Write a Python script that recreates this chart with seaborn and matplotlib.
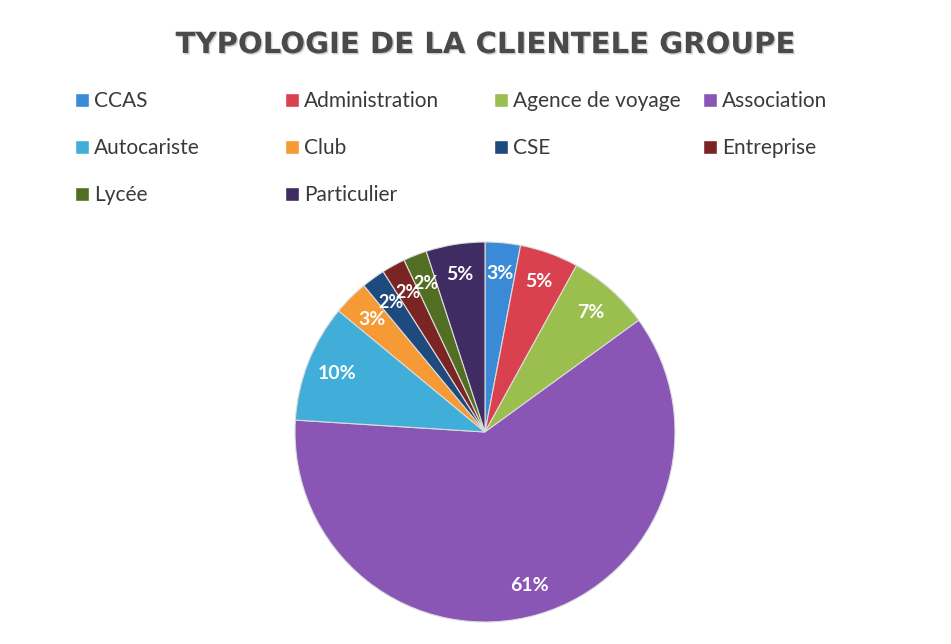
import seaborn as sns
import matplotlib.pyplot as plt
import matplotlib.patheffects as pe
from matplotlib.patches import Patch

# Data
categories = ["CCAS", "Administration", "Agence de voyage", "Association", "Autocariste",
              "Club", "CSE", "Entreprise", "Lycée", "Particulier"]
shares = [3, 5, 7, 61, 10, 3, 2, 2, 2, 5]
colors = ["#3b8ad8", "#d9414f", "#9bbf4f", "#8a56b6", "#40aed8",
          "#f59a34", "#1f4a7e", "#7a2424", "#516e22", "#3f2c62"]

sns.set_theme(style="white")
plt.rcParams["font.family"] = ["Lato", "DejaVu Sans"]

fig = plt.figure(figsize=(9.51, 6.44), dpi=100)

# Pie
ax = fig.add_axes([(485 - 190) / 951, (644 - 432 - 190) / 644, 380 / 951, 380 / 644])
wedges, texts, autotexts = ax.pie(
    shares,
    colors=colors,
    startangle=90,
    counterclock=False,
    autopct=lambda p: f"{p:.0f}%",
    pctdistance=0.84,
    wedgeprops=dict(edgecolor="#dcdcdc", linewidth=0.8),
    textprops=dict(color="white", fontsize=14, fontweight="bold"),
)
# only the 2% slices are too thin for full-size labels
for t, s in zip(autotexts, shares):
    if s <= 2:
        t.set_fontsize(13)
ax.set_xlim(-1, 1)
ax.set_ylim(-1, 1)
ax.set_aspect("equal")
ax.axis("off")

# Title
fig.text(485 / 951, 1 - 45 / 644, "TYPOLOGIE DE LA CLIENTELE GROUPE",
         ha="center", va="center", fontsize=21, fontweight="bold",
         color="#4a4a4a", family=["DejaVu Sans"],
         path_effects=[pe.withSimplePatchShadow(offset=(1, -1), shadow_rgbFace="#b0b0b0", alpha=0.6)])

# Legend: one column at a time, laid out in rows like the original
col_x = [75, 285, 494, 703]
columns = [[0, 4, 8], [1, 5, 9], [2, 6], [3, 7]]
for x, idx in zip(col_x, columns):
    handles = [Patch(facecolor=colors[i], label=categories[i]) for i in idx]
    fig.legend(handles=handles, loc="upper left",
               bbox_to_anchor=(x / 951, 1 - 91 / 644),
               frameon=False, fontsize=15, handlelength=0.65, handleheight=0.65,
               handletextpad=0.25, labelspacing=1.3, borderpad=0, borderaxespad=0,
               labelcolor="#3a3a3a")

fig.savefig("out.png", dpi=100)
plt.close(fig)
